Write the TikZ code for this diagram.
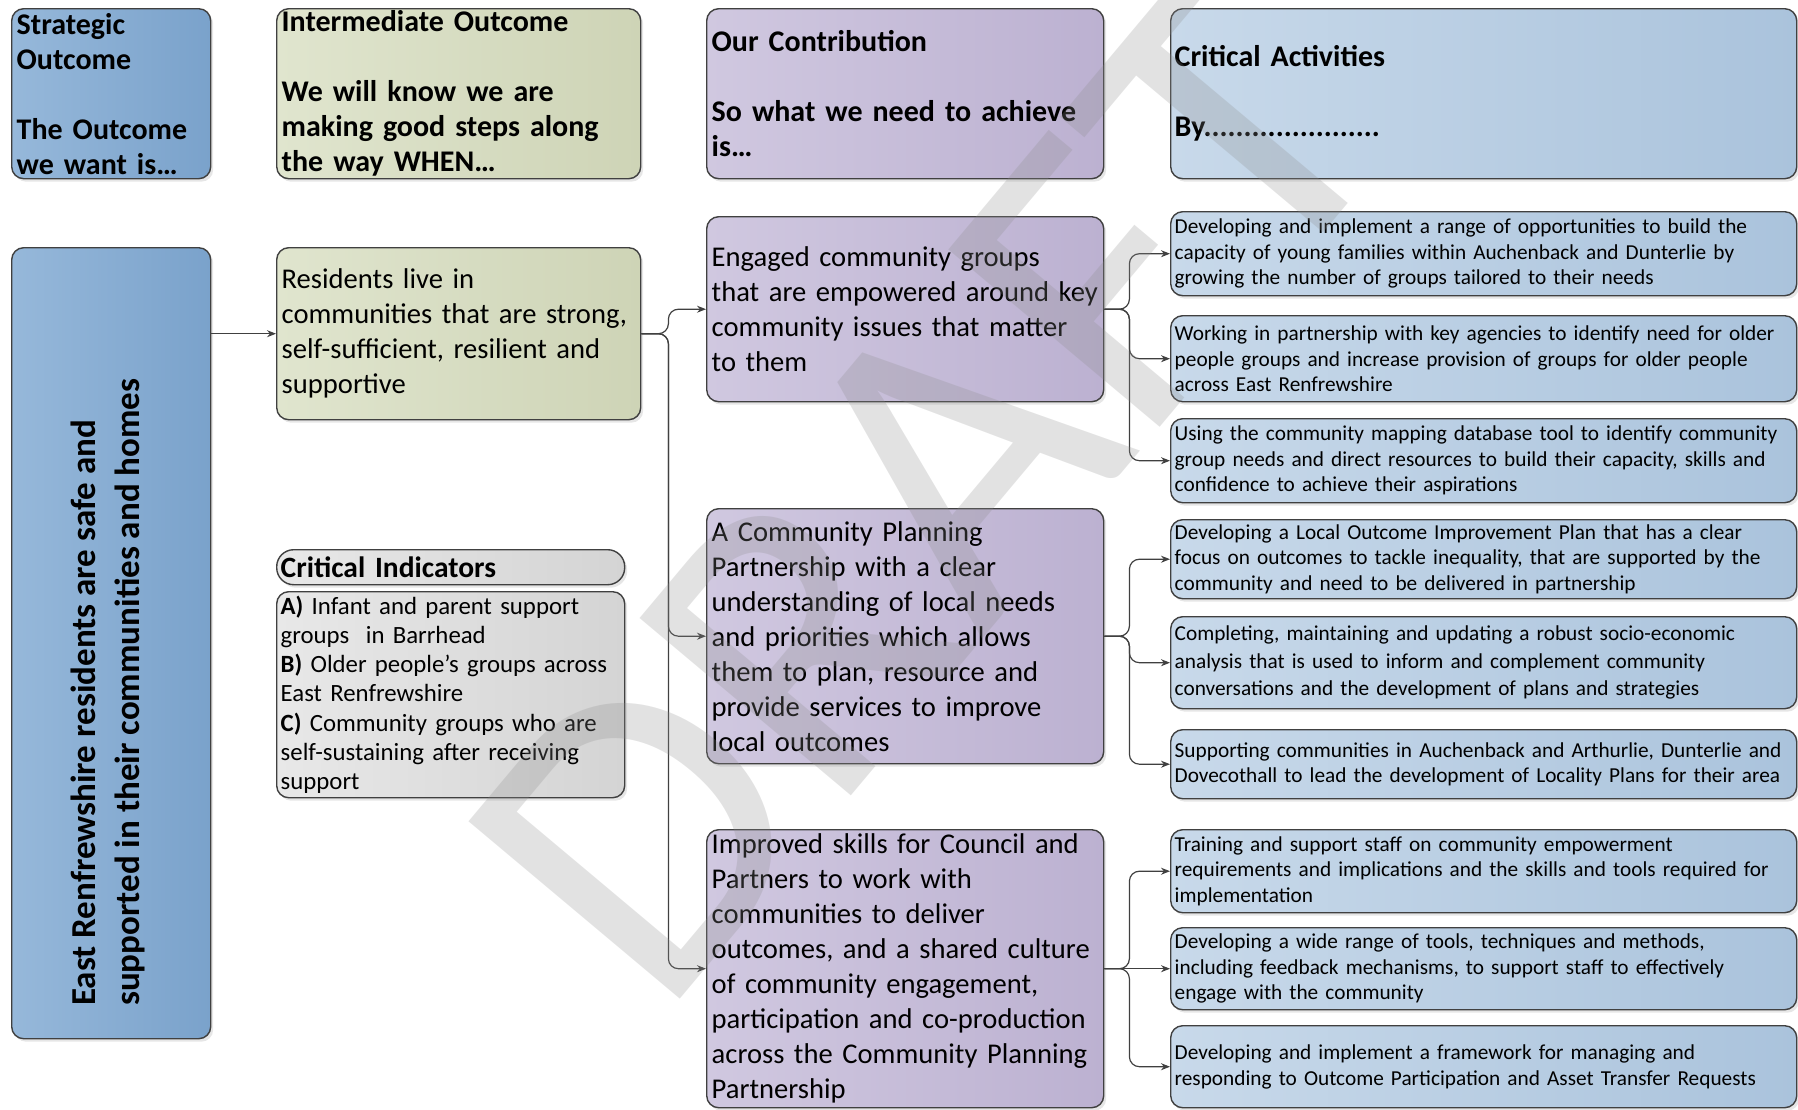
\documentclass[tikz,border=0pt]{standalone}
\usepackage{fontspec}
\setmainfont{Carlito}
\usepackage{xcolor}
\usepackage{tikz}
\usetikzlibrary{arrows.meta, shadows}

\definecolor{edge}{RGB}{64,64,64}
\definecolor{stratA}{RGB}{150,184,218}
\definecolor{stratB}{RGB}{122,162,203}
\definecolor{interA}{RGB}{224,229,206}
\definecolor{interB}{RGB}{206,212,182}
\definecolor{purpA}{RGB}{208,200,224}
\definecolor{purpB}{RGB}{188,177,209}
\definecolor{actA}{RGB}{200,217,234}
\definecolor{actB}{RGB}{170,195,220}
\definecolor{indA}{RGB}{232,232,232}
\definecolor{indB}{RGB}{212,212,212}

\begin{document}
\hyphenpenalty=10000 \exhyphenpenalty=10000
\begin{tikzpicture}[x=1pt, y=-1pt,
    box/.style={anchor=north west, draw=edge, line width=1.4pt, rounded corners=12pt,
        align=left, inner xsep=5pt, inner ysep=0pt,
        drop shadow={shadow xshift=2.5pt, shadow yshift=-3pt, opacity=.2}},
    hfont/.style={font=\fontsize{30}{35}\selectfont\bfseries},
    bfont/.style={font=\fontsize{28.6}{35}\selectfont},
    strat/.style={box, left color=stratA, right color=stratB, text width=189pt},
    inter/.style={box, left color=interA, right color=interB, text width=354pt},
    indic/.style={box, left color=indA, right color=indB, inner xsep=4pt, text width=340pt},
    contrib/.style={box, left color=purpA, right color=purpB, text width=387pt},
    activity/.style={box, left color=actA, right color=actB, inner xsep=4pt, text width=618pt,
        font=\fontsize{21.3}{25.5}\selectfont},
    link/.style={draw=edge, line width=1.2pt, rounded corners=10pt, -{Stealth[length=9pt,width=7pt]}}
]
\useasboundingbox (0,0) rectangle (1798,1109);

\node[strat, hfont, minimum height=170pt] (hstrat) at (11,8)
    {Strategic\\Outcome\\[35pt]The Outcome\\we want is…};
\node[inter, hfont, minimum height=170pt] (hinter) at (276,8)
    {Intermediate Outcome\\[35pt]We will know we are\\making good steps along\\the way WHEN…};
\node[contrib, hfont, minimum height=170pt] (hcontrib) at (706,8)
    {Our Contribution\\[35pt]So what we need to achieve\\is…};
\node[activity, hfont, minimum height=170pt] (hact) at (1170,8)
    {Critical Activities\\[35pt]By......................};

\node[strat, minimum height=791pt] (strat) at (11,247) {};
\node[rotate=90, anchor=west, align=left, inner sep=0pt,
    font=\fontsize{35}{43.6}\selectfont\bfseries] (goal) at (108,1006)
    {East Renfrewshire residents are safe and\\supported in their communities and homes};

\node[inter, bfont, minimum height=172pt] (res) at (276,247)
    {Residents live in\\communities that are strong,\\self-sufficient, resilient and\\supportive};
\node[indic, rounded corners=17pt, minimum height=35pt,
    font=\fontsize{29.5}{35}\selectfont\bfseries] (hind) at (276,549) {Critical Indicators};
\node[indic, minimum height=206pt, font=\fontsize{24.8}{29.3}\selectfont] (ind) at (276,591)
    {\textbf{A)} Infant and parent support\\groups\ \ in Barrhead\\\textbf{B)} Older people’s groups across\\East Renfrewshire\\\textbf{C)} Community groups who are\\self-sustaining after receiving\\support};

\node[contrib, bfont, minimum height=185pt] (engaged) at (706,216)
    {Engaged community groups\\that are empowered around key\\community issues that matter\\to them};
\node[contrib, bfont, minimum height=255pt] (plan) at (706,508)
    {A Community Planning\\Partnership with a clear\\understanding of local needs\\and priorities which allows\\them to plan, resource and\\provide services to improve\\local outcomes};
\node[contrib, bfont, minimum height=278pt] (skills) at (706,829)
    {Improved skills for Council and\\Partners to work with\\communities to deliver\\outcomes, and a shared culture\\of community engagement,\\participation and co-production\\across the Community Planning\\Partnership};

\node[activity, minimum height=84pt] (a1) at (1170,211)
    {Developing and implement a range of opportunities to build the\\capacity of young families within Auchenback and Dunterlie by\\growing the number of groups tailored to their needs};
\node[activity, minimum height=86pt] (a2) at (1170,315)
    {Working in partnership with key agencies to identify need for older\\people groups and increase provision of groups for older people\\across East Renfrewshire};
\node[activity, minimum height=84pt] (a3) at (1170,418)
    {Using the community mapping database tool to identify community\\group needs and direct resources to build their capacity, skills and\\confidence to achieve their aspirations};
\node[activity, minimum height=79pt] (b1) at (1170,519)
    {Developing a Local Outcome Improvement Plan that has a clear\\focus on outcomes to tackle inequality, that are supported by the\\community and need to be delivered in partnership};
\node[activity, minimum height=92pt, font=\fontsize{21.3}{27.5}\selectfont] (b2) at (1170,616)
    {Completing, maintaining and updating a robust socio-economic\\analysis that is used to inform and complement community\\conversations and the development of plans and strategies};
\node[activity, minimum height=69pt] (b3) at (1170,729)
    {Supporting communities in Auchenback and Arthurlie, Dunterlie and\\Dovecothall to lead the development of Locality Plans for their area};
\node[activity, minimum height=83pt] (c1) at (1170,829)
    {Training and support staff on community empowerment\\requirements and implications and the skills and tools required for\\implementation};
\node[activity, minimum height=82pt] (c2) at (1170,927)
    {Developing a wide range of tools, techniques and methods,\\including feedback mechanisms, to support staff to effectively\\engage with the community};
\node[activity, minimum height=82pt] (c3) at (1170,1025)
    {Developing and implement a framework for managing and\\responding to Outcome Participation and Asset Transfer Requests};

\draw[link] (strat.east |- res.west) -- (res.west);
\foreach \to in {engaged, plan, skills}
    \draw[link] (res.east) -- ++(27,0) |- (\to.west);
\foreach \to in {a1, a2, a3}
    \draw[link] (engaged.east) -- ++(25,0) |- (\to.west);
\foreach \to in {b1, b2, b3}
    \draw[link] (plan.east) -- ++(25,0) |- (\to.west);
\foreach \to in {c1, c3}
    \draw[link] (skills.east) -- ++(25,0) |- (\to.west);
\draw[link] (skills.east) -- (c2.west);

\node[rotate=50, inner sep=0pt, text=black!45, opacity=.25,
    font=\fontsize{430}{430}\selectfont] (draft) at (927,491) {DRAFT};
\end{tikzpicture}
\end{document}
